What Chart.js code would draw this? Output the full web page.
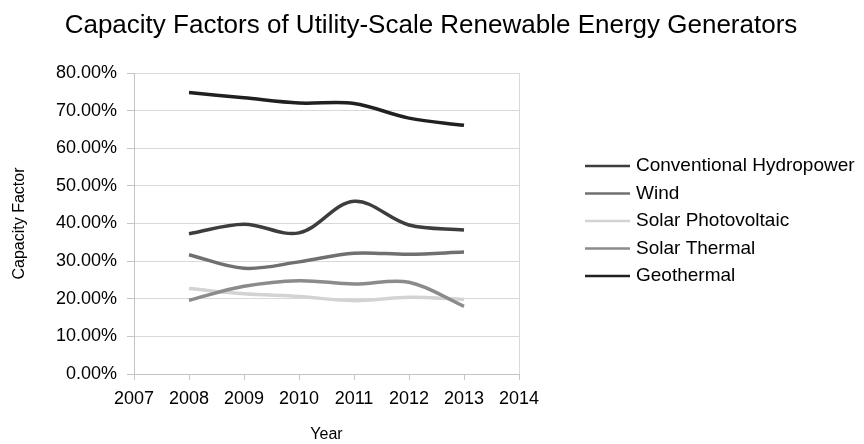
<!DOCTYPE html>
<html>
<head>
<meta charset="utf-8">
<title>Capacity Factors</title>
<script src="https://cdn.jsdelivr.net/npm/chart.js@4.4.1/dist/chart.umd.min.js"></script>
<style>
  html, body { margin: 0; padding: 0; background: #fff; }
  #wrap { width: 864px; height: 444px; }
</style>
</head>
<body>
<div id="wrap"><canvas id="capacityChart"></canvas></div>
<script>
/* ================= DATA ================= */

const years = [2008, 2009, 2010, 2011, 2012, 2013];

const hydropower   = [37.3, 39.8, 37.5, 45.9, 39.6, 38.3];
const wind         = [31.7, 28.1, 29.8, 32.1, 31.8, 32.4];
const solarPV      = [22.7, 21.3, 20.6, 19.5, 20.4, 19.8];
const solarThermal = [19.6, 23.3, 24.8, 23.9, 24.4, 18.0];
const geothermal   = [74.8, 73.4, 72.0, 71.9, 68.0, 66.1];

const seriesNames = ["Conventional Hydropower", "Wind", "Solar Photovoltaic", "Solar Thermal", "Geothermal"];
const seriesData = [hydropower, wind, solarPV, solarThermal, geothermal];
const seriesColors = ["#3d3d3d", "#707070", "#d3d3d3", "#8b8b8b", "#202020"];

const xTicks = [2007, 2008, 2009, 2010, 2011, 2012, 2013, 2014];
const yTicks = [0, 10, 20, 30, 40, 50, 60, 70, 80];

const chartTitle = "Capacity Factors of Utility-Scale Renewable Energy Generators";

/* ================= DEFAULTS ================= */

const FONT = "'Liberation Sans', Arial, Helvetica, sans-serif";
Chart.defaults.font.family = FONT;
Chart.defaults.color = "#000";

const GRID = "#d9d9d9";
const AXIS = "#c4c4c4";

/* ================= TITLE + LEGEND ================= */

// the built-in title would be squeezed into the plot width, so it is drawn across the canvas
const headerAndLegend = {
  id: "headerAndLegend",
  afterDraw(chart) {
    const { ctx, chartArea } = chart;
    ctx.save();

    ctx.font = `26px ${FONT}`;
    ctx.fillStyle = "#000";
    ctx.textAlign = "center";
    ctx.textBaseline = "alphabetic";
    ctx.fillText(chartTitle, 431, 33);

    const x0 = chartArea.right + 66;
    ctx.font = `19px ${FONT}`;
    ctx.textAlign = "left";
    ctx.textBaseline = "middle";
    seriesNames.forEach((name, i) => {
      const y = 166 + i * 27.5;
      ctx.strokeStyle = seriesColors[i];
      ctx.lineWidth = 2.5;
      ctx.beginPath();
      ctx.moveTo(x0, y);
      ctx.lineTo(x0 + 45, y);
      ctx.stroke();
      ctx.fillText(name, x0 + 51, y);
    });

    ctx.restore();
  }
};

/* ================= CHART ================= */

const ctx = document.getElementById("capacityChart").getContext("2d");

new Chart(ctx, {
  type: "line",
  data: {
    datasets: seriesNames.map((name, i) => ({
      label: name,
      data: years.map((yr, j) => ({ x: yr, y: seriesData[i][j] })),
      borderColor: seriesColors[i],
      backgroundColor: seriesColors[i],
      borderWidth: 3.5,
      pointRadius: 0,
      tension: 0.35,
      fill: false,
      // later series are painted on top
      order: seriesNames.length - i
    }))
  },
  options: {
    responsive: true,
    maintainAspectRatio: false,
    animation: false,
    layout: { padding: { left: 0, right: 345, top: 73, bottom: 0 } },
    plugins: {
      legend: { display: false },
      tooltip: { enabled: false },
      title: { display: false }
    },
    scales: {
      x: {
        type: "linear",
        min: 2007,
        max: 2014,
        afterBuildTicks: axis => { axis.ticks = xTicks.map(v => ({ value: v })); },
        afterFit: axis => { axis.height = 70; },
        ticks: {
          font: { size: 18 },
          padding: 8,
          maxRotation: 0,
          callback: v => String(v)
        },
        grid: {
          color: c => (c.tick && c.tick.value === 2014 ? GRID : "rgba(0,0,0,0)"),
          tickColor: AXIS,
          tickLength: 6,
          drawOnChartArea: true
        },
        border: { display: true, color: AXIS },
        title: {
          display: true,
          text: "Year",
          font: { size: 16 },
          padding: { top: 0, bottom: 0 }
        }
      },
      y: {
        min: 0,
        max: 80,
        afterBuildTicks: axis => { axis.ticks = yTicks.map(v => ({ value: v })); },
        afterFit: axis => { axis.width = 134; },
        ticks: {
          font: { size: 18 },
          padding: 10,
          callback: v => v.toFixed(2) + "%"
        },
        grid: {
          color: GRID,
          tickColor: AXIS,
          tickLength: 7
        },
        border: { display: true, color: AXIS },
        title: {
          display: true,
          text: "Capacity Factor",
          font: { size: 16 },
          padding: { top: 10, bottom: 0 }
        }
      }
    }
  },
  plugins: [headerAndLegend]
});
</script>
</body>
</html>
